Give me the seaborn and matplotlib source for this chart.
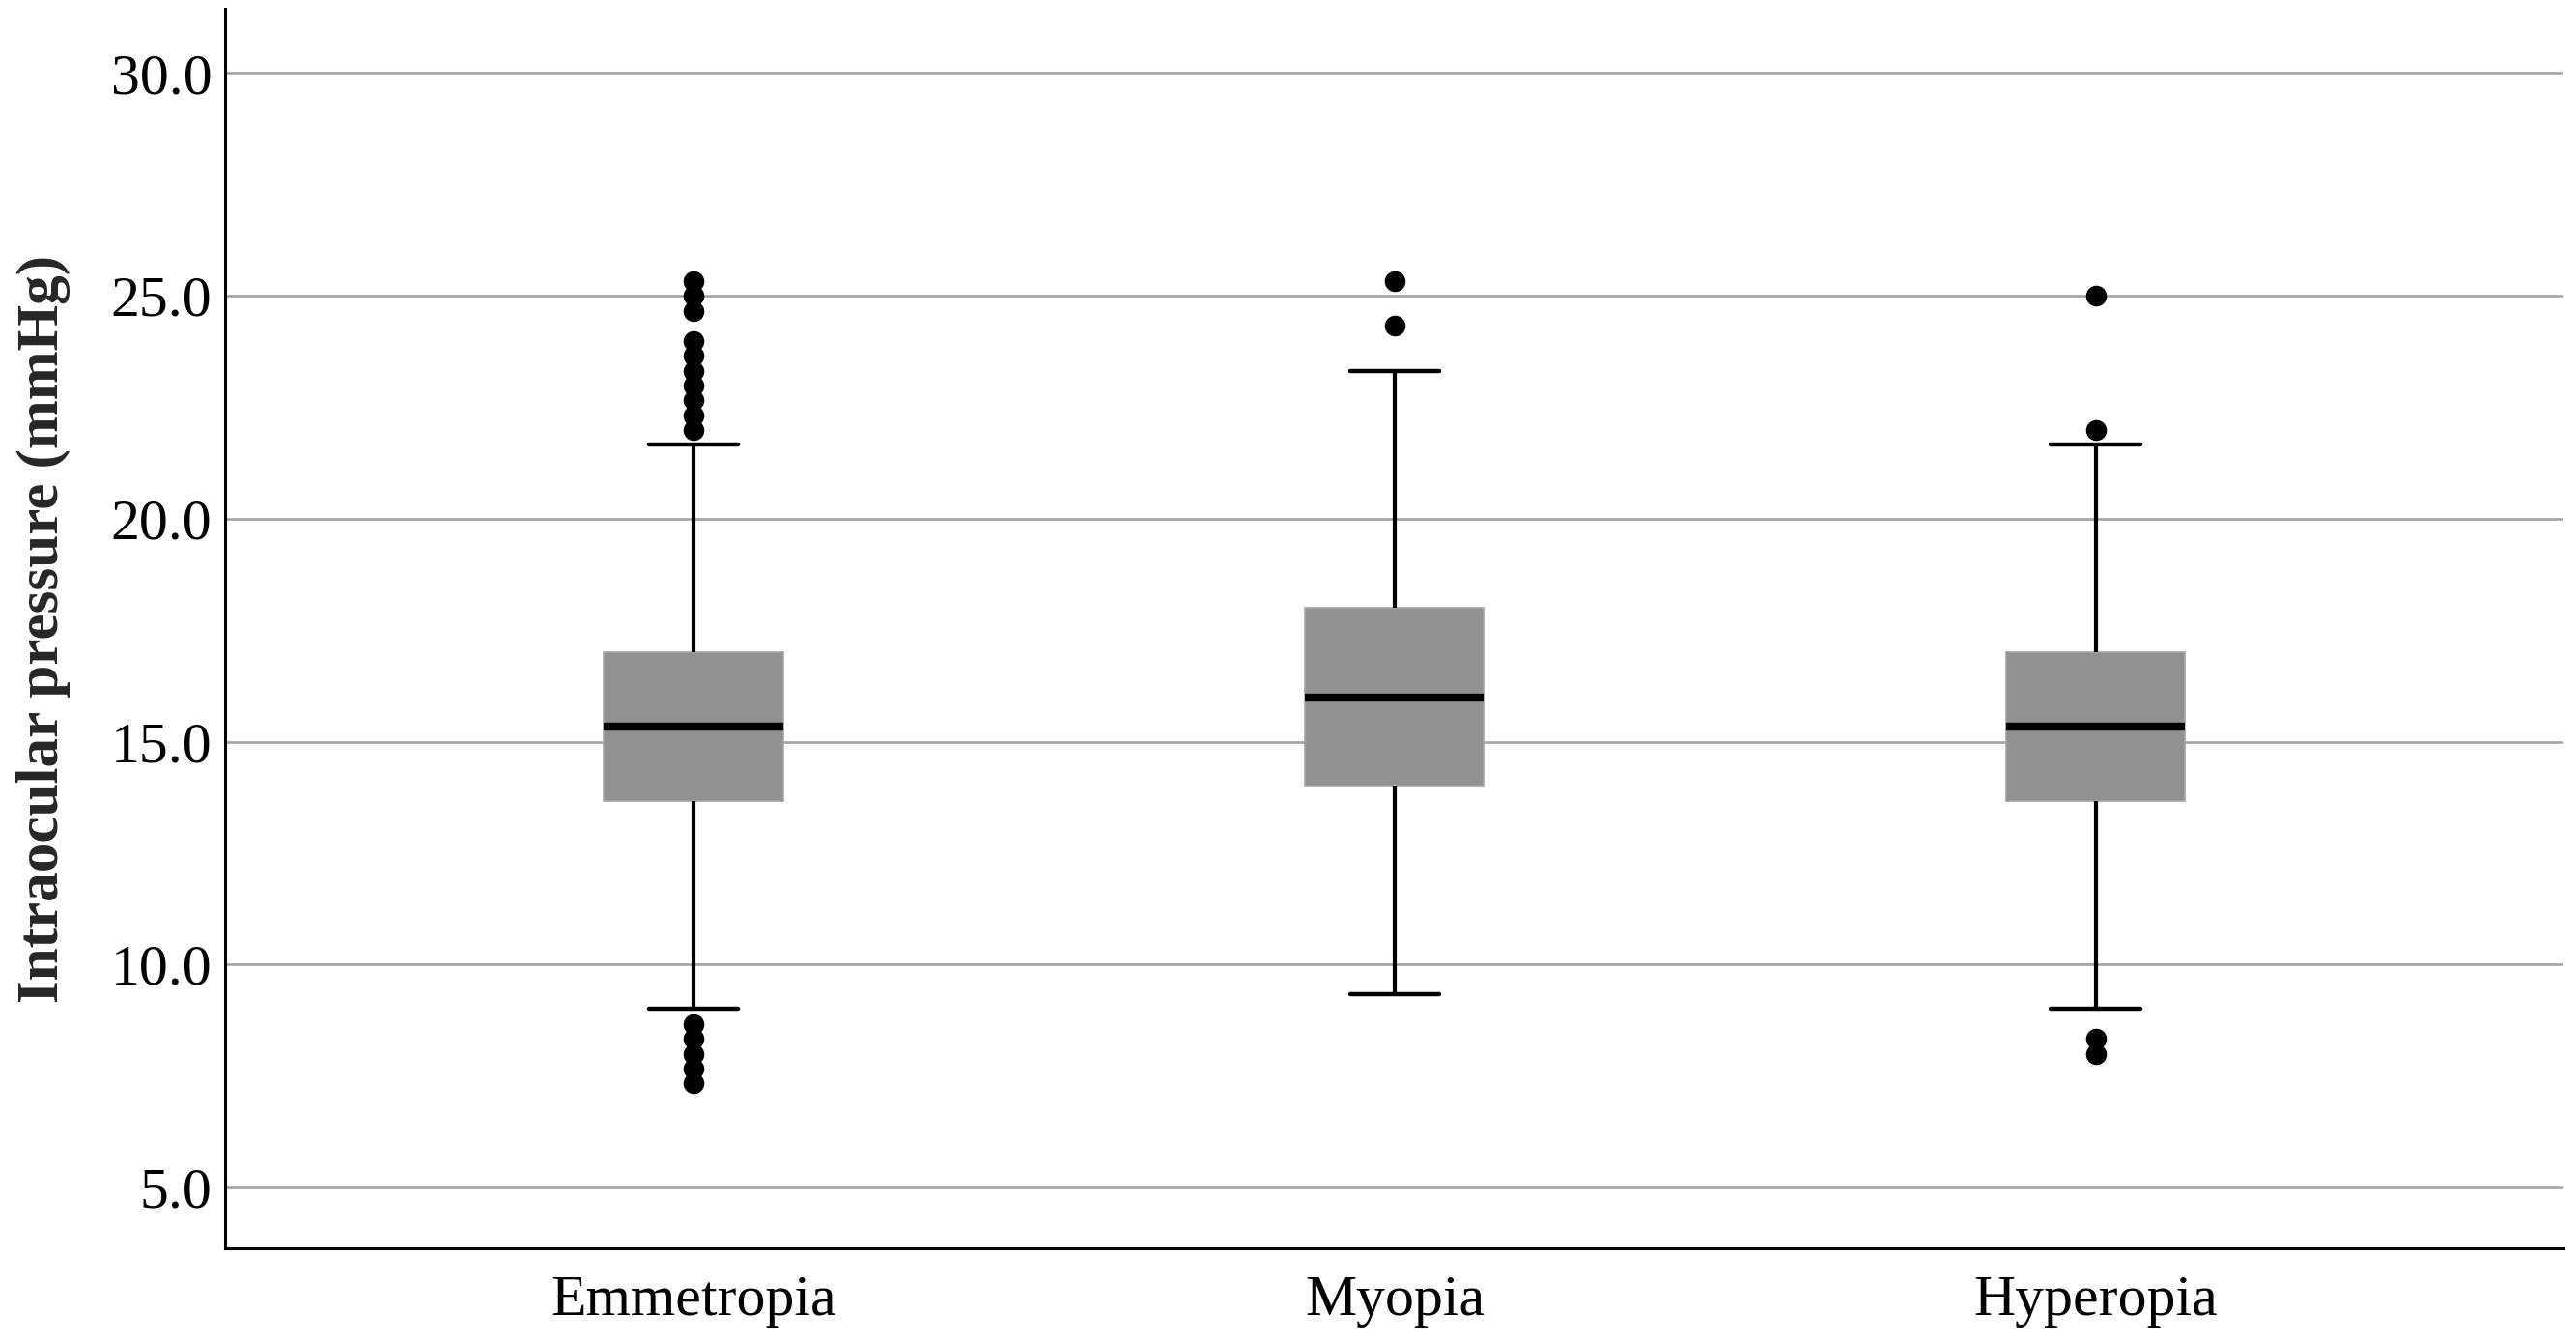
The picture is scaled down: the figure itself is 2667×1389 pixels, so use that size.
import matplotlib
matplotlib.use("Agg")
import matplotlib.pyplot as plt
import seaborn as sns
import pandas as pd

# ---- data ----
groups = ["Emmetropia", "Myopia", "Hyperopia"]
whisker_low = [9.0, 9.33, 9.0]
q1 = [13.67, 14.0, 13.67]
median = [15.33, 16.0, 15.33]
q3 = [17.0, 18.0, 17.0]
whisker_high = [21.67, 23.33, 21.67]

outliers_emmetropia = [22.0, 22.33, 22.67, 23.0, 23.33, 23.67, 24.0, 24.67, 25.0, 25.33,
                       8.67, 8.33, 8.0, 7.67, 7.33]
outliers_myopia = [25.33, 24.33]
outliers_hyperopia = [25.0, 22.0, 8.33, 8.0]

y_ticks = [5.0, 10.0, 15.0, 20.0, 25.0, 30.0]
y_label = "Intraocular pressure (mmHg)"

# ---- build tables ----
rows = []
for g, lo, a, m, b, hi in zip(groups, whisker_low, q1, median, q3, whisker_high):
    for v in (lo, a, m, b, hi):
        rows.append({"group": g, "iop": v})
summary_df = pd.DataFrame(rows)

out_rows = []
for g, vals in zip(groups, [outliers_emmetropia, outliers_myopia, outliers_hyperopia]):
    for v in vals:
        out_rows.append({"group": g, "iop": v})
out_df = pd.DataFrame(out_rows)

sns.set_style("white")
plt.rcParams["font.family"] = ["Liberation Serif", "DejaVu Serif"]

fig = plt.figure(figsize=(26.67, 13.89), dpi=100)
ax = fig.add_axes([0.0874, 0.0698, 0.9077, 0.9237])

sns.boxplot(data=summary_df, x="group", y="iop", order=groups, whis=(0, 100),
            width=0.255, color="#919191", fill=True, ax=ax, zorder=3,
            boxprops=dict(facecolor="#919191", edgecolor="#a6a6a6", linewidth=1.2),
            whiskerprops=dict(color="black", linewidth=3.0),
            capprops=dict(color="black", linewidth=3.2),
            medianprops=dict(color="black", linewidth=6.0),
            showfliers=False)

sns.stripplot(data=out_df, x="group", y="iop", order=groups, jitter=False,
              color="black", size=15.5, linewidth=0, ax=ax, zorder=4)

ax.set_xlim(-0.668, 2.667)
ax.set_ylim(3.63, 31.45)
ax.set_yticks(y_ticks)
ax.set_yticklabels([f"{t:.1f}" for t in y_ticks])
ax.yaxis.grid(True, color="#a3a3a3", linewidth=1.9, zorder=0)
ax.xaxis.grid(False)
ax.set_axisbelow(True)

for side in ("top", "right"):
    ax.spines[side].set_visible(False)
for side in ("left", "bottom"):
    ax.spines[side].set_color("black")
    ax.spines[side].set_linewidth(2.2)

ax.tick_params(axis="both", length=0, labelsize=43, colors="black")
ax.tick_params(axis="y", pad=10)
ax.tick_params(axis="x", pad=20)
ax.set_xlabel("")
ax.set_ylabel(y_label, fontsize=44, fontweight="bold", labelpad=30)

fig.savefig("out.png", dpi=100, facecolor="white")
